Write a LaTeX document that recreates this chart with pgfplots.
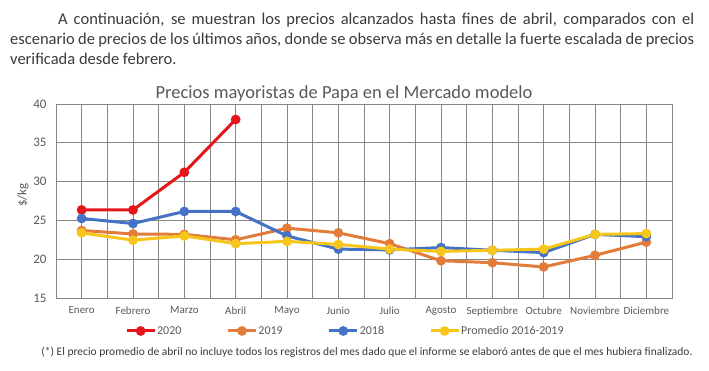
\documentclass[border=0pt]{standalone}
\usepackage{pgfplots}
\pgfplotsset{compat=1.18}
\usepackage{fontspec}
\setmainfont{Carlito}
\definecolor{cred}{HTML}{E3161B}
\definecolor{corange}{HTML}{E27C3A}
\definecolor{cblue}{HTML}{4472C4}
\definecolor{cyellow}{HTML}{F6C71A}
\definecolor{txt}{HTML}{595959}
\definecolor{body}{HTML}{3A3A3A}
\definecolor{gridc}{HTML}{858585}
\begin{document}
\begin{tikzpicture}
\useasboundingbox (0pt,0pt) rectangle (709pt,371pt);
\node[anchor=north west, inner sep=0pt, text width=684pt, align=justify,
      font=\fontsize{16.5}{20}\selectfont, text=body] at (10pt,358pt)
 {\hspace*{48pt}A continuación, se muestran los precios alcanzados hasta fines de abril, comparados con el\linebreak escenario de precios de los últimos años, donde se observa más en detalle la fuerte escalada de precios\linebreak verificada desde febrero.};
\node[font=\fontsize{18.5}{22}\selectfont, text=txt] at (344pt,277pt) {Precios mayoristas de Papa en el Mercado modelo};
\node[font=\fontsize{13}{15}\selectfont, text=txt, rotate=90] at (23pt,176pt) {\$/kg};
\begin{axis}[
  at={(56pt,73pt)}, anchor=south west, width=616pt, height=194pt, scale only axis,
  xmin=-0.5, xmax=11.5, ymin=15, ymax=40,
  ytick={15,20,...,40},
  xtick={0,...,11},
  xticklabels={Enero,Febrero,Marzo,Abril,Mayo,Junio,Julio,Agosto,Septiembre,Octubre,Noviembre,Diciembre},
  minor xtick={-0.5,0.5,...,11.5},
  grid=both,
  major grid style={draw=gridc, line width=0.8pt},
  minor grid style={draw=gridc, line width=0.8pt},
  axis line style={draw=gridc, line width=0.8pt},
  major tick length=0pt, minor tick length=0pt,
  x tick label style={font=\fontsize{11}{13}\selectfont, text=txt, yshift=-5pt},
  y tick label style={font=\fontsize{13}{15}\selectfont, text=txt, xshift=-6pt},
  /pgf/number format/assume math mode=true,
  every axis plot/.append style={line width=3pt, mark=*, mark size=3.3pt},
  legend columns=4,
  legend style={at={(0.469,-0.170)}, anchor=center, draw=none, fill=none,
    font=\fontsize{12}{14}\selectfont, text=txt, inner sep=0pt,
    nodes={inner sep=1pt},
    /tikz/every even column/.append style={column sep=44pt}},
  legend image code/.code={\draw[mark repeat=2,mark phase=2,#1] plot coordinates {(0pt,0pt) (14pt,0pt) (28pt,0pt)};},
]
\addplot[color=cred] coordinates {(0,26.35) (1,26.35) (2,31.2) (3,38.0)};
\addlegendentry{2020}
\addplot[color=corange] coordinates {(0,23.7) (1,23.25) (2,23.2) (3,22.5) (4,24.0) (5,23.4) (6,22.0) (7,19.8) (8,19.55) (9,19.0) (10,20.5) (11,22.2)};
\addlegendentry{2019}
\addplot[color=cblue] coordinates {(0,25.25) (1,24.6) (2,26.15) (3,26.15) (4,23.0) (5,21.3) (6,21.2) (7,21.5) (8,21.15) (9,20.85) (10,23.2) (11,22.9)};
\addlegendentry{2018}
\addplot[color=cyellow] coordinates {(0,23.4) (1,22.45) (2,23.0) (3,22.0) (4,22.3) (5,21.9) (6,21.3) (7,21.0) (8,21.15) (9,21.3) (10,23.2) (11,23.3)};
\addlegendentry{Promedio 2016-2019}
\end{axis}
\node[font=\fontsize{11.5}{13}\selectfont, text=body] at (367pt,19pt) {(*) El precio promedio de abril no incluye todos los registros del mes dado que el informe se elaboró antes de que el mes hubiera finalizado.};
\end{tikzpicture}
\end{document}
